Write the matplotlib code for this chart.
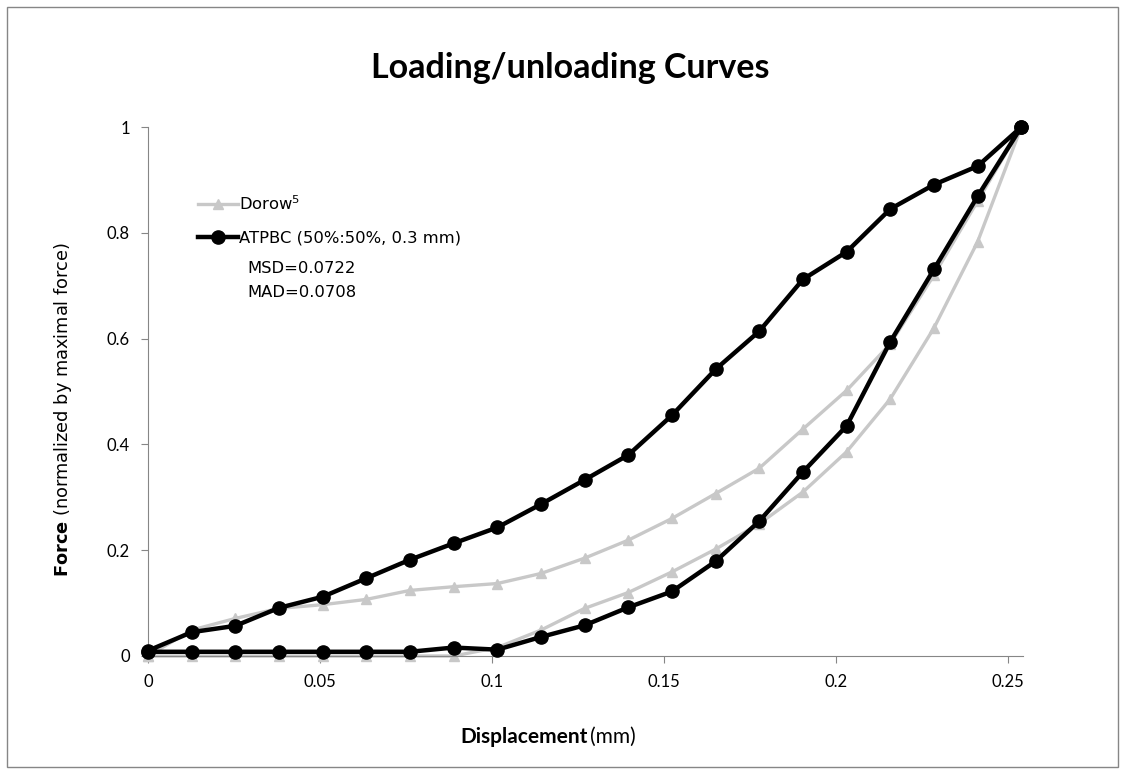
import matplotlib
matplotlib.use("Agg")
import matplotlib.pyplot as plt
from matplotlib.patches import Rectangle
from matplotlib.ticker import FormatStrFormatter

# displacement steps (mm), same for loading and unloading branches
displacement = [0, 0.0127, 0.0254, 0.0381, 0.0508, 0.0635, 0.0762, 0.0889, 0.1016, 0.1143,
                0.127, 0.1397, 0.1524, 0.1651, 0.1778, 0.1905, 0.2032, 0.2159, 0.2286, 0.2413, 0.254]

# Dorow reference curves
dorow_upper = [0, 0.049, 0.071, 0.09, 0.097, 0.107, 0.124, 0.131, 0.137, 0.156,
               0.185, 0.219, 0.26, 0.307, 0.355, 0.429, 0.502, 0.59, 0.72, 0.86, 1.0]
dorow_lower = [0, 0, 0, 0, 0, 0, 0, 0, 0.016, 0.049,
               0.09, 0.12, 0.159, 0.202, 0.25, 0.31, 0.386, 0.486, 0.62, 0.783, 1.0]

# ATPBC model curves
atpbc_upper = [0.01, 0.045, 0.057, 0.091, 0.112, 0.147, 0.182, 0.213, 0.243, 0.287,
               0.333, 0.38, 0.455, 0.542, 0.614, 0.712, 0.764, 0.845, 0.891, 0.926, 1.0]
atpbc_lower = [0.008, 0.008, 0.008, 0.008, 0.008, 0.008, 0.008, 0.016, 0.012, 0.036,
               0.058, 0.092, 0.122, 0.179, 0.255, 0.348, 0.435, 0.594, 0.731, 0.869, 1.0]

x_ticks = [0, 0.05, 0.1, 0.15, 0.2, 0.25]
y_ticks = [0, 0.2, 0.4, 0.6, 0.8, 1]

loop_x = displacement + displacement[::-1]
dorow_loop = dorow_upper + dorow_lower[::-1]
atpbc_loop = atpbc_upper + atpbc_lower[::-1]

fig = plt.figure(figsize=(11.25, 7.74), dpi=100)
ax = fig.add_axes([148/1125, 1-656/774, 875/1125, 529/774])

ax.plot(loop_x, dorow_loop, color='#c8c8c8', lw=2.4, marker='^', ms=7.5,
        mec='#c8c8c8', mfc='#c8c8c8', clip_on=False, zorder=2, label='Dorow$^5$')
ax.plot(loop_x, atpbc_loop, color='black', lw=3.2, marker='o', ms=9.5,
        clip_on=False, zorder=3, label='ATPBC (50%:50%, 0.3 mm)')

ax.set_xlim(0, 0.2545)
ax.set_ylim(0, 1)
ax.set_xticks(x_ticks)
ax.set_yticks(y_ticks)
ax.xaxis.set_major_formatter(FormatStrFormatter('%g'))
ax.yaxis.set_major_formatter(FormatStrFormatter('%g'))
for lab in ax.get_xticklabels() + ax.get_yticklabels():
    lab.set_fontfamily('Lato')
    lab.set_fontsize(12)
ax.tick_params(direction='out', length=5, color='#868686', pad=8)
ax.spines['top'].set_visible(False)
ax.spines['right'].set_visible(False)
ax.spines['left'].set_color('#868686')
ax.spines['bottom'].set_color('#868686')

leg = ax.legend(loc='upper left', bbox_to_anchor=(0.05, 0.885), frameon=False,
                fontsize=11.8, handlelength=2.4, handletextpad=0.1, labelspacing=1.05,
                borderaxespad=0)
ax.text(0.114, 0.733, 'MSD=0.0722', transform=ax.transAxes, fontsize=11.8, va='center')
ax.text(0.114, 0.688, 'MAD=0.0708', transform=ax.transAxes, fontsize=11.8, va='center')

fig.text(570/1125, 1-68/774, 'Loading/unloading Curves', ha='center', va='center',
         fontfamily='Lato', fontweight='bold', fontsize=24.5)
fig.text(63/1125, 1-409/774, r'$\bf{Force}$ (normalized by maximal force)', rotation=90,
         ha='center', va='center', fontsize=12.8)
fig.text(588/1125, 1-737/774, 'Displacement', ha='right', va='center',
         fontfamily='Lato', fontweight='bold', fontsize=15)
fig.text(590/1125, 1-737/774, '(mm)', ha='left', va='center',
         fontfamily='Lato', fontsize=15)

fig.add_artist(Rectangle((7/1125, 7/774), 1111/1125, 760/774, transform=fig.transFigure,
                         fill=False, edgecolor='#868686', lw=1))

plt.savefig('out.png', dpi=100)
